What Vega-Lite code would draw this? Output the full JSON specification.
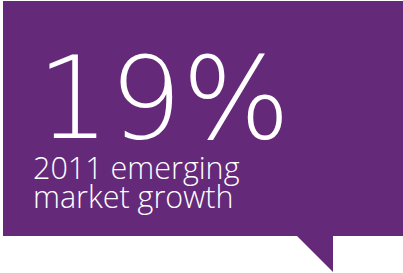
{
  "$schema": "https://vega.github.io/schema/vega-lite/v6.json",
  "width": 403,
  "height": 273,
  "autosize": {"type": "fit", "contains": "padding"},
  "padding": 0,
  "background": "white",
  "config": {"view": {"stroke": null}},
  "layer": [
    {
      "data": {"values": [{"x": 3, "x2": 403, "y": 1, "y2": 236}]},
      "mark": {"type": "rect", "color": "#65297a"},
      "encoding": {
        "x": {"field": "x", "type": "quantitative", "scale": {"domain": [0, 403]}, "axis": null},
        "x2": {"field": "x2"},
        "y": {"field": "y", "type": "quantitative", "scale": {"domain": [0, 273], "reverse": true}, "axis": null},
        "y2": {"field": "y2"}
      }
    },
    {
      "data": {"values": [{"x": 296, "y": 235, "y2": 235}, {"x": 333, "y": 272, "y2": 235}]},
      "mark": {"type": "area", "color": "#65297a"},
      "encoding": {
        "x": {"field": "x", "type": "quantitative", "scale": {"domain": [0, 403]}, "axis": null},
        "y": {"field": "y", "type": "quantitative", "scale": {"domain": [0, 273], "reverse": true}, "axis": null},
        "y2": {"field": "y2"}
      }
    },
    {
      "data": {"values": [{"x": 37, "y": 138, "label": "19%"}]},
      "mark": {"type": "text", "color": "white", "font": "DejaVu Sans", "fontWeight": 200, "fontSize": 114, "align": "left", "baseline": "alphabetic"},
      "encoding": {
        "x": {"field": "x", "type": "quantitative", "scale": {"domain": [0, 403]}, "axis": null},
        "y": {"field": "y", "type": "quantitative", "scale": {"domain": [0, 273], "reverse": true}, "axis": null},
        "text": {"field": "label"}
      }
    },
    {
      "data": {"values": [{"x": 33, "y": 179, "label": "2011 emerging"}, {"x": 33, "y": 208, "label": "market growth"}]},
      "mark": {"type": "text", "color": "white", "font": "Open Sans", "fontWeight": 300, "fontSize": 30.5, "align": "left", "baseline": "alphabetic"},
      "encoding": {
        "x": {"field": "x", "type": "quantitative", "scale": {"domain": [0, 403]}, "axis": null},
        "y": {"field": "y", "type": "quantitative", "scale": {"domain": [0, 273], "reverse": true}, "axis": null},
        "text": {"field": "label"}
      }
    }
  ]
}
